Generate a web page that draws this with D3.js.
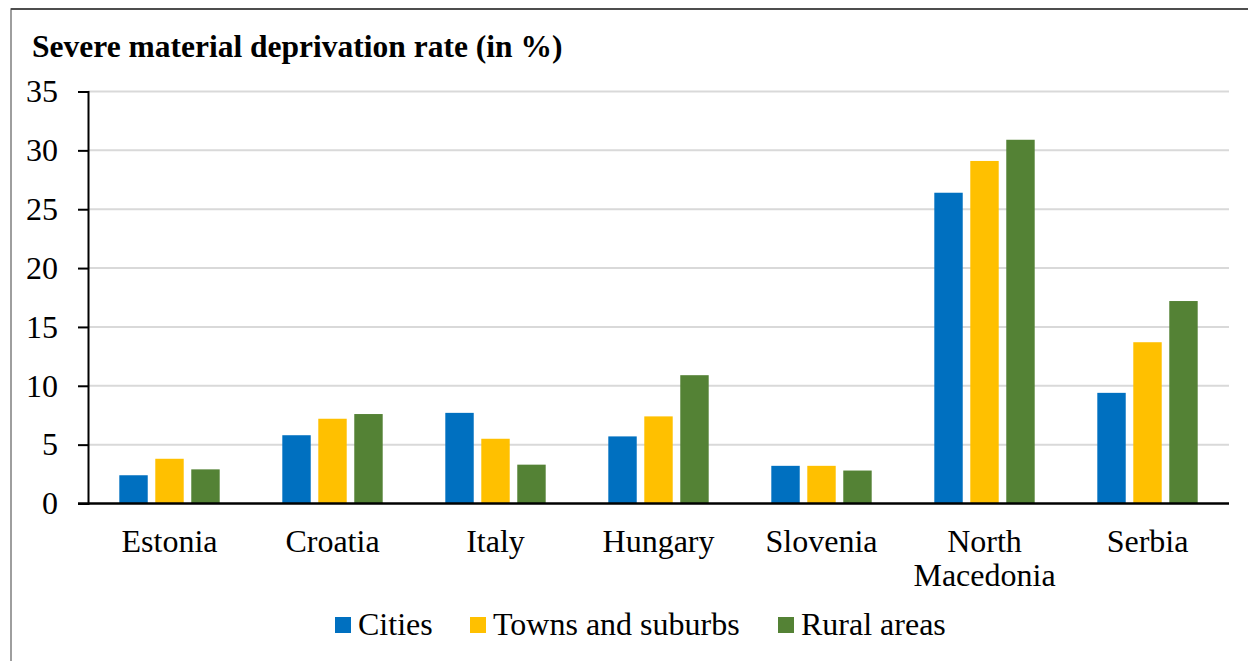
<!DOCTYPE html>
<html>
<head>
<meta charset="utf-8">
<script src="https://cdn.jsdelivr.net/npm/d3@7"></script>
<style>
  body { margin: 0; background: #fff; }
  text { font-family: "Liberation Serif", "Times New Roman", serif; }
</style>
</head>
<body>
<div id="chart"></div>
<script>
const countries = ["Estonia", "Croatia", "Italy", "Hungary", "Slovenia", "North Macedonia", "Serbia"];
const seriesNames = ["Cities", "Towns and suburbs", "Rural areas"];
const cities = [2.4, 5.8, 7.7, 5.7, 3.2, 26.4, 9.4];
const towns = [3.8, 7.2, 5.5, 7.4, 3.2, 29.1, 13.7];
const rural = [2.9, 7.6, 3.3, 10.9, 2.8, 30.9, 17.2];
const yTicks = [0, 5, 10, 15, 20, 25, 30, 35];
const colors = ["#0070C0", "#FFC000", "#548235"];

const W = 1248, H = 661;
const margin = {top: 91.5, right: 19, bottom: 157.5, left: 88};
const width = W - margin.left - margin.right,
      height = H - margin.top - margin.bottom;

const data = countries.map((c, i) => ({
  key: c,
  values: [
    {grpName: seriesNames[0], grpValue: cities[i]},
    {grpName: seriesNames[1], grpValue: towns[i]},
    {grpName: seriesNames[2], grpValue: rural[i]}
  ]
}));

const svg = d3.select("#chart").append("svg")
  .attr("width", W)
  .attr("height", H);

// frame
svg.append("rect")
  .attr("x", 11).attr("y", 9)
  .attr("width", W + 20).attr("height", H + 20)
  .attr("fill", "none")
  .attr("stroke", "#7f7f7f")
  .attr("stroke-width", 1.5);
svg.append("line")
  .attr("x1", 11).attr("x2", W).attr("y1", 9).attr("y2", 9)
  .attr("stroke", "#333").attr("stroke-width", 1.5);

svg.append("text")
  .attr("x", 32).attr("y", 57)
  .style("font-size", "31.5px")
  .style("font-weight", "bold")
  .text("Severe material deprivation rate (in %)");

const g = svg.append("g")
  .attr("transform", "translate(" + margin.left + "," + margin.top + ")");

const x0 = d3.scaleBand().domain(countries).range([0, width]);
const x1 = d3.scaleBand().domain(seriesNames).range([0, x0.bandwidth()])
  .paddingInner(0.21).paddingOuter(0.87);
const y = d3.scaleLinear().domain([0, 35]).range([height, 0]);
const color = d3.scaleOrdinal().domain(seriesNames).range(colors);

// gridlines
g.selectAll(".grid")
  .data(yTicks.filter(d => d > 0))
  .enter().append("line")
  .attr("class", "grid")
  .attr("x1", 0).attr("x2", width)
  .attr("y1", d => y(d)).attr("y2", d => y(d))
  .attr("stroke", "#d9d9d9")
  .attr("stroke-width", 2);

// bars
const slice = g.selectAll(".slice")
  .data(data)
  .enter().append("g")
  .attr("class", "slice")
  .attr("transform", d => "translate(" + x0(d.key) + ",0)");

slice.selectAll("rect")
  .data(d => d.values)
  .enter().append("rect")
  .attr("x", d => x1(d.grpName))
  .attr("width", x1.bandwidth())
  .attr("y", d => y(d.grpValue))
  .attr("height", d => height - y(d.grpValue))
  .style("fill", d => color(d.grpName));

// y axis
const yAxis = g.append("g")
  .call(d3.axisLeft(y).tickValues(yTicks).tickSize(10).tickPadding(20));
yAxis.select(".domain").attr("stroke", "#000").attr("stroke-width", 2);
yAxis.selectAll(".tick line").attr("stroke", "#000").attr("stroke-width", 2);
yAxis.selectAll(".tick text")
  .style("font-family", "'Liberation Serif', serif")
  .style("font-size", "32px")
  .attr("fill", "#000");

// x axis baseline
g.append("line")
  .attr("x1", -10).attr("x2", width)
  .attr("y1", y(0)).attr("y2", y(0))
  .attr("stroke", "#000")
  .attr("stroke-width", 2.5);

// category labels
const labels = g.selectAll(".cat")
  .data(countries)
  .enter().append("text")
  .attr("class", "cat")
  .attr("text-anchor", "middle")
  .attr("x", d => x0(d) + x0.bandwidth() / 2)
  .attr("y", height + 48)
  .style("font-size", "32px")
  .attr("fill", "#000");
labels.each(function(d) {
  const words = d === "North Macedonia" ? ["North", "Macedonia"] : [d];
  const t = d3.select(this);
  words.forEach((w, i) => {
    t.append("tspan")
      .attr("x", x0(d) + x0.bandwidth() / 2)
      .attr("dy", i === 0 ? 0 : 34.5)
      .text(w);
  });
});

// legend
const legendX = [335, 470, 778];
const legend = svg.selectAll(".legend")
  .data(seriesNames)
  .enter().append("g")
  .attr("class", "legend")
  .attr("transform", (d, i) => "translate(" + legendX[i] + ",617)");
legend.append("rect")
  .attr("width", 16).attr("height", 16)
  .style("fill", d => color(d));
legend.append("text")
  .attr("x", 23).attr("y", 18)
  .style("font-size", "32px")
  .attr("fill", "#000")
  .text(d => d);
</script>
</body>
</html>
